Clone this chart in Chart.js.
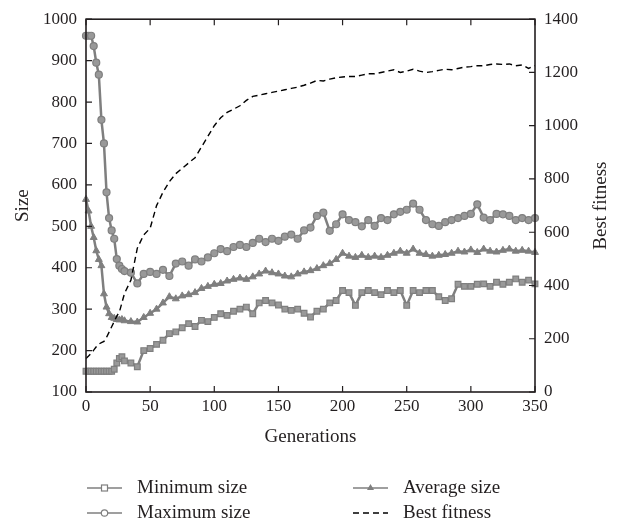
<!DOCTYPE html>
<html>
<head>
<meta charset="utf-8">
<script src="https://cdn.jsdelivr.net/npm/chart.js@4.4.0/dist/chart.umd.min.js"></script>
<style>
  html, body { margin: 0; padding: 0; background: #fff; }
  #wrap { width: 619px; height: 523px; position: relative; }
</style>
</head>
<body>
<div id="wrap"><canvas id="sizeChart" width="619" height="523"></canvas></div>
<script>
// generations sampled from the plot
const generations = [0, 2, 4, 6, 8, 10, 12, 14, 16, 18, 20, 22, 24, 26, 28, 30,
  35, 40, 45, 50, 55, 60, 65, 70, 75, 80, 85, 90, 95, 100,
  105, 110, 115, 120, 125, 130, 135, 140, 145, 150,
  155, 160, 165, 170, 175, 180, 185, 190, 195, 200,
  205, 210, 215, 220, 225, 230, 235, 240, 245, 250,
  255, 260, 265, 270, 275, 280, 285, 290, 295, 300,
  305, 310, 315, 320, 325, 330, 335, 340, 345, 350];

const minSize = [150, 150, 150, 150, 150, 150, 150, 150, 150, 150, 150, 155, 170, 181, 185, 175,
  170, 161, 200, 205, 215, 225, 241, 245, 255, 265, 258, 273, 270, 280,
  289, 285, 295, 300, 305, 289, 315, 321, 315, 310,
  300, 297, 300, 290, 281, 295, 300, 315, 321, 345,
  340, 309, 340, 345, 340, 335, 345, 340, 345, 309,
  345, 340, 345, 345, 330, 321, 325, 360, 355, 355,
  360, 361, 355, 365, 360, 365, 373, 365, 370, 361];

const maxSize = [960, 960, 960, 935, 895, 866, 757, 700, 582, 520, 490, 470, 421, 405, 397, 392,
  388, 362, 385, 390, 385, 395, 380, 410, 415, 405, 420, 415, 425, 435,
  445, 440, 450, 455, 450, 460, 470, 462, 470, 465,
  475, 480, 470, 490, 497, 525, 533, 489, 505, 529,
  515, 510, 500, 515, 501, 520, 515, 529, 535, 540,
  555, 540, 515, 505, 501, 510, 515, 520, 525, 530,
  553, 521, 515, 530, 529, 525, 515, 520, 515, 520];

const avgSize = [565, 537, 500, 473, 441, 420, 405, 337, 305, 289, 280, 278, 275, 274, 275, 272,
  270, 269, 280, 290, 300, 315, 330, 325, 332, 335, 340, 350, 355, 360,
  362, 368, 372, 375, 372, 378, 385, 392, 388, 385,
  380, 378, 385, 390, 393, 398, 405, 410, 420, 435,
  428, 425, 430, 425, 428, 425, 430, 435, 440, 435,
  445, 435, 432, 428, 430, 432, 435, 440, 438, 443,
  437, 445, 440, 438, 442, 445, 440, 442, 440, 437];

const bestFitness = [126, 135, 145, 157, 170, 180, 185, 190, 205, 225, 245, 265, 285, 300, 335, 370,
  420, 540, 590, 615, 700, 750, 790, 820, 840, 860, 880, 920, 960, 1000,
  1030, 1050, 1062, 1075, 1095, 1110, 1115, 1120, 1125, 1130,
  1135, 1140, 1145, 1152, 1160, 1170, 1168, 1175, 1180, 1183,
  1185, 1185, 1190, 1195, 1195, 1200, 1205, 1210, 1200, 1205,
  1212, 1205, 1200, 1203, 1208, 1212, 1210, 1215, 1220, 1222,
  1225, 1225, 1230, 1232, 1230, 1232, 1225, 1228, 1215, 1226];

const xTicks = [0, 50, 100, 150, 200, 250, 300, 350];
const sizeTicks = [100, 200, 300, 400, 500, 600, 700, 800, 900, 1000];
const fitnessTicks = [0, 200, 400, 600, 800, 1000, 1200, 1400];

const FONT = "'Liberation Serif', 'DejaVu Serif', serif";
const INK = '#231f20';
const GREY = '#7f7f7f';
const plain = v => String(v);

function pts(values) {
  return generations.map((g, i) => ({ x: g, y: values[i] }));
}

// box round the plot with inward ticks, like the original
const framePlugin = {
  id: 'frame',
  afterDatasetsDraw(chart) {
    const { ctx, chartArea: a, scales } = chart;
    ctx.save();
    ctx.strokeStyle = INK;
    ctx.lineWidth = 1.6;
    ctx.strokeRect(a.left, a.top, a.right - a.left, a.bottom - a.top);
    ctx.lineWidth = 1.2;
    ctx.beginPath();
    xTicks.forEach(v => {
      const px = scales.x.getPixelForValue(v);
      ctx.moveTo(px, a.bottom); ctx.lineTo(px, a.bottom - 6);
      ctx.moveTo(px, a.top); ctx.lineTo(px, a.top + 6);
    });
    sizeTicks.forEach(v => {
      const py = scales.y.getPixelForValue(v);
      ctx.moveTo(a.left, py); ctx.lineTo(a.left + 6, py);
    });
    fitnessTicks.forEach(v => {
      const py = scales.y2.getPixelForValue(v);
      ctx.moveTo(a.right, py); ctx.lineTo(a.right - 6, py);
    });
    ctx.stroke();
    ctx.restore();
  },
  afterDraw(chart) {
    const { ctx, chartArea: a } = chart;
    ctx.save();
    // right axis title, reading bottom to top
    ctx.fillStyle = INK;
    ctx.font = '19px ' + FONT;
    ctx.textAlign = 'center';
    ctx.textBaseline = 'middle';
    ctx.translate(601, (a.top + a.bottom) / 2);
    ctx.rotate(-Math.PI / 2);
    ctx.fillText('Best fitness', 0, 0);
    ctx.restore();

    // legend, two columns
    const items = [
      { label: 'Minimum size', x: 87, y: 488, style: 'rect' },
      { label: 'Maximum size', x: 87, y: 513, style: 'circle' },
      { label: 'Average size', x: 353, y: 488, style: 'triangle' },
      { label: 'Best fitness', x: 353, y: 513, style: 'dash' }
    ];
    ctx.save();
    items.forEach(it => {
      const x0 = it.x, x1 = it.x + 35, mx = (x0 + x1) / 2, y = it.y;
      ctx.beginPath();
      if (it.style === 'dash') {
        ctx.strokeStyle = '#000';
        ctx.lineWidth = 1.5;
        ctx.setLineDash([6, 4]);
      } else {
        ctx.strokeStyle = GREY;
        ctx.lineWidth = 1.3;
        ctx.setLineDash([]);
      }
      ctx.moveTo(x0, y); ctx.lineTo(x1, y);
      ctx.stroke();
      ctx.setLineDash([]);
      ctx.strokeStyle = GREY;
      ctx.fillStyle = '#fff';
      ctx.lineWidth = 1.2;
      if (it.style === 'rect') {
        ctx.fillRect(mx - 3, y - 3, 6, 6);
        ctx.strokeRect(mx - 3, y - 3, 6, 6);
      } else if (it.style === 'circle') {
        ctx.beginPath(); ctx.arc(mx, y, 3.2, 0, Math.PI * 2);
        ctx.fill(); ctx.stroke();
      } else if (it.style === 'triangle') {
        ctx.fillStyle = GREY;
        ctx.beginPath();
        ctx.moveTo(mx, y - 4); ctx.lineTo(mx + 3.5, y + 2); ctx.lineTo(mx - 3.5, y + 2);
        ctx.closePath(); ctx.fill();
      }
      ctx.fillStyle = INK;
      ctx.font = '19px ' + FONT;
      ctx.textAlign = 'left';
      ctx.textBaseline = 'middle';
      ctx.fillText(it.label, x1 + 15, y);
    });
    ctx.restore();
  }
};

document.addEventListener('DOMContentLoaded', function() {
  const ctx = document.getElementById('sizeChart').getContext('2d');
  new Chart(ctx, {
    type: 'line',
    data: {
      datasets: [
        {
          label: 'Best fitness',
          data: pts(bestFitness),
          yAxisID: 'y2',
          borderColor: '#000',
          borderWidth: 1.4,
          borderDash: [6, 4],
          pointRadius: 0,
          tension: 0,
          clip: false,
          order: 0
        },
        {
          label: 'Minimum size',
          data: pts(minSize),
          yAxisID: 'y',
          borderColor: GREY,
          borderWidth: 2.5,
          pointStyle: 'rect',
          pointRadius: 4,
          pointBorderColor: GREY,
          pointBackgroundColor: '#999',
          pointBorderWidth: 1.2,
          tension: 0,
          clip: false,
          order: 3
        },
        {
          label: 'Maximum size',
          data: pts(maxSize),
          yAxisID: 'y',
          borderColor: GREY,
          borderWidth: 2.5,
          pointStyle: 'circle',
          pointRadius: 3.5,
          pointBorderColor: GREY,
          pointBackgroundColor: '#999',
          pointBorderWidth: 1.2,
          tension: 0,
          clip: false,
          order: 2
        },
        {
          label: 'Average size',
          data: pts(avgSize),
          yAxisID: 'y',
          borderColor: GREY,
          borderWidth: 2.5,
          pointStyle: 'triangle',
          pointRadius: 4,
          pointBorderColor: GREY,
          pointBackgroundColor: GREY,
          pointBorderWidth: 1,
          tension: 0,
          clip: false,
          order: 1
        }
      ]
    },
    options: {
      responsive: false,
      animation: false,
      layout: { padding: { top: 17, bottom: 71, left: 0, right: 0 } },
      plugins: {
        legend: { display: false },
        tooltip: { enabled: false }
      },
      scales: {
        x: {
          type: 'linear',
          min: 0,
          max: 350,
          afterFit(scale) { scale.height = 60; },
          afterBuildTicks(scale) { scale.ticks = xTicks.map(v => ({ value: v })); },
          grid: { display: false, drawTicks: false },
          border: { display: false },
          ticks: { color: INK, font: { family: FONT, size: 17 }, padding: 4, maxRotation: 0, callback: plain },
          title: { display: true, text: 'Generations', color: INK, font: { family: FONT, size: 19 }, padding: { top: 6 } }
        },
        y: {
          position: 'left',
          min: 100,
          max: 1000,
          afterFit(scale) { scale.width = 86; },
          afterBuildTicks(scale) { scale.ticks = sizeTicks.map(v => ({ value: v })); },
          grid: { display: false, drawTicks: false },
          border: { display: false },
          ticks: { color: INK, font: { family: FONT, size: 17 }, padding: 9, callback: plain },
          title: { display: true, text: 'Size', color: INK, font: { family: FONT, size: 19 }, padding: { top: 12, bottom: 0 } }
        },
        y2: {
          position: 'right',
          min: 0,
          max: 1400,
          afterFit(scale) { scale.width = 84; },
          afterBuildTicks(scale) { scale.ticks = fitnessTicks.map(v => ({ value: v })); },
          grid: { display: false, drawTicks: false },
          border: { display: false },
          ticks: { color: INK, font: { family: FONT, size: 17 }, padding: 9, callback: plain }
        }
      }
    },
    plugins: [framePlugin]
  });
});
</script>
</body>
</html>
